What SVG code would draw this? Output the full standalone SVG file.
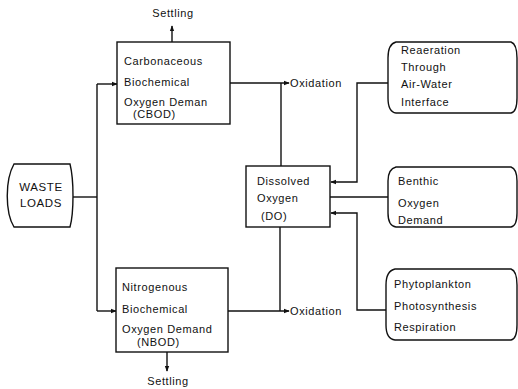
<svg xmlns="http://www.w3.org/2000/svg" width="518" height="389" viewBox="0 0 518 389">
<defs>
<style>
.b{fill:#fff;stroke:#111;stroke-width:1.4}
.c{fill:none;stroke:#111;stroke-width:1.4}
text{font-family:"Liberation Sans",Arial,sans-serif;font-size:11px;fill:#111;letter-spacing:0.6px}
.w{font-size:11.5px}
</style>
<marker id="a" viewBox="0 0 8 8" refX="7" refY="4" markerWidth="6" markerHeight="6" orient="auto" markerUnits="userSpaceOnUse">
<path d="M0,1 L8,4 L0,7 Z" fill="#111"/>
</marker>
</defs>
<rect width="518" height="389" fill="#fff"/>
<g id="connectors">
<path class="c" d="M73,197 H97"/>
<path class="c" d="M97,84 V311"/>
<path class="c" d="M97,84 H117" marker-end="url(#a)"/>
<path class="c" d="M97,311 H116" marker-end="url(#a)"/>
<path class="c" d="M172,42 V26" marker-end="url(#a)"/>
<path class="c" d="M167,352 V371" marker-end="url(#a)"/>
<path class="c" d="M230,83 H289" marker-end="url(#a)"/>
<path class="c" d="M281,83 V166"/>
<path class="c" d="M228,311 H289" marker-end="url(#a)"/>
<path class="c" d="M280,227 V311"/>
<path class="c" d="M388,83 H357 V182 H331" marker-end="url(#a)"/>
<path class="c" d="M330,197 H388"/>
<path class="c" d="M387,310 H357 V213 H331" marker-end="url(#a)"/>
</g>
<g id="settling-top"><text x="173" y="17" text-anchor="middle">Settling</text></g>
<g id="settling-bottom"><text x="168" y="385" text-anchor="middle">Settling</text></g>
<g id="oxidation-top"><text x="290" y="87">Oxidation</text></g>
<g id="oxidation-bottom"><text x="290" y="315">Oxidation</text></g>
<g id="waste">
<path class="b" d="M14,164 H70 C74,180 74,212 70,227 H14 C5,212 5,180 14,164 Z"/>
<text class="w" x="41" y="191" text-anchor="middle">WASTE</text>
<text class="w" x="41" y="207" text-anchor="middle">LOADS</text>
</g>
<g id="cbod">
<rect class="b" x="117" y="42" width="113" height="82"/>
<text x="124" y="65">Carbonaceous</text>
<text x="124" y="86">Biochemical</text>
<text x="124" y="106">Oxygen Deman</text>
<text x="133" y="118">(CBOD)</text>
</g>
<g id="nbod">
<rect class="b" x="116" y="268" width="112" height="84"/>
<text x="122" y="291">Nitrogenous</text>
<text x="122" y="313">Biochemical</text>
<text x="122" y="333">Oxygen Demand</text>
<text x="137" y="346">(NBOD)</text>
</g>
<g id="do">
<rect class="b" x="246" y="166" width="84" height="61"/>
<text x="257" y="185">Dissolved</text>
<text x="257" y="202">Oxygen</text>
<text x="261" y="220">(DO)</text>
</g>
<g id="reaeration">
<path class="b" d="M396,42 H511 Q517,44 517,58 V98 Q517,112 511,113 H396 Q388,112 388,98 V58 Q388,44 396,42 Z"/>
<text x="401" y="54">Reaeration</text>
<text x="401" y="71">Through</text>
<text x="401" y="88">Air-Water</text>
<text x="401" y="106">Interface</text>
</g>
<g id="benthic">
<path class="b" d="M396,167 H511 Q517,169 517,181 V213 Q517,226 511,227 H396 Q388,226 388,213 V181 Q388,169 396,167 Z"/>
<text x="398" y="185">Benthic</text>
<text x="398" y="207">Oxygen</text>
<text x="398" y="224">Demand</text>
</g>
<g id="phyto">
<path class="b" d="M395,269 H511 Q517,271 517,285 V325 Q517,339 511,340 H395 Q386,339 386,325 V285 Q386,271 395,269 Z"/>
<text x="394" y="288">Phytoplankton</text>
<text x="394" y="310">Photosynthesis</text>
<text x="394" y="331">Respiration</text>
</g>
</svg>
